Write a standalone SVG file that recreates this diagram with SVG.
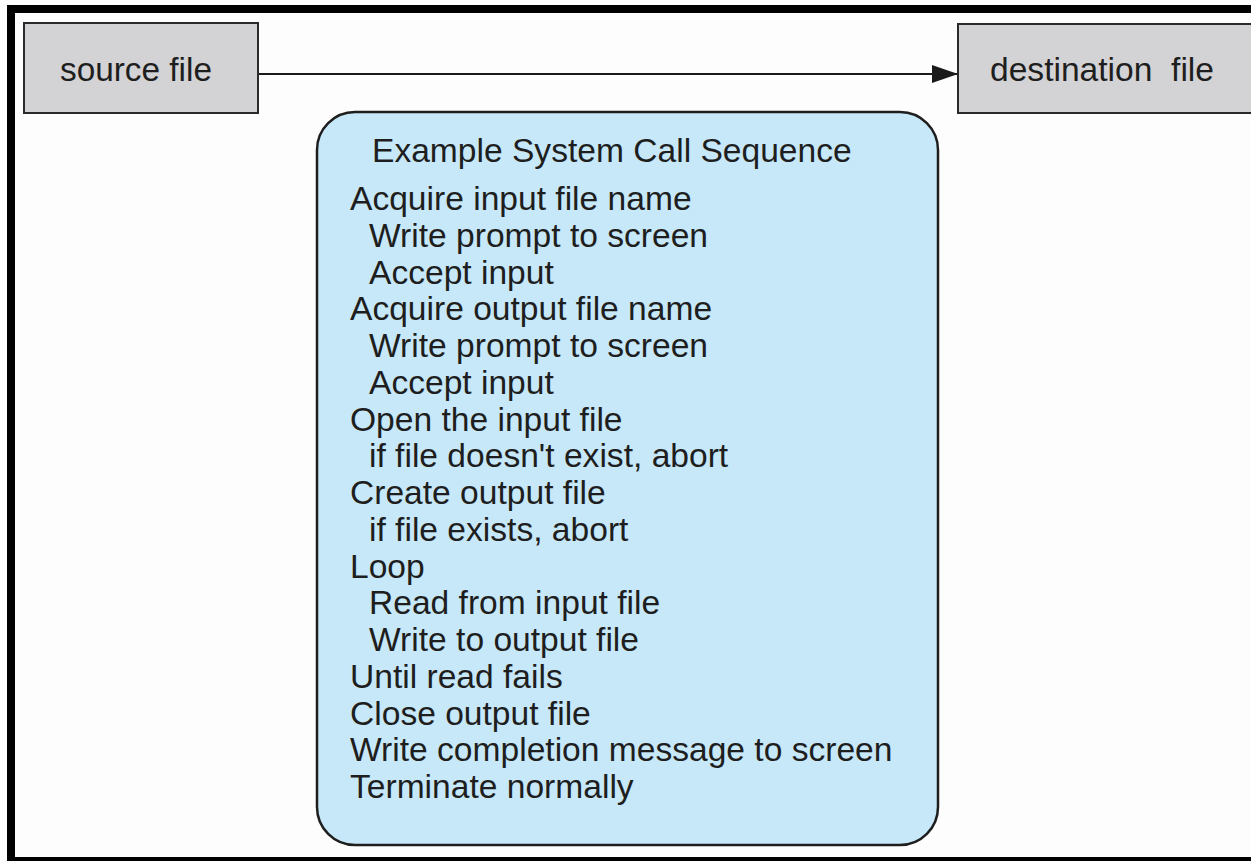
<svg xmlns="http://www.w3.org/2000/svg" width="1251" height="861" viewBox="0 0 1251 861">
<style>
.t{font-family:"Liberation Sans",Arial,sans-serif;font-size:33.6px;fill:#1e1e1e}
.box{fill:#d3d3d5;stroke:#2a2a2a;stroke-width:2}
.conn{stroke:#1a1a1a;stroke-width:2.2;fill:none}
</style>
<defs>
<marker id="arr" markerWidth="26" markerHeight="18" refX="25" refY="9" orient="auto" markerUnits="userSpaceOnUse">
<polygon points="0,0 26,9 0,18" fill="#1a1a1a"/>
</marker>
</defs>
<rect x="0" y="0" width="1251" height="861" fill="#fdfdfd"/>
<g id="frame">
<rect x="7" y="5" width="1250" height="8" fill="#000"/>
<rect x="7" y="5" width="8" height="856" fill="#000"/>
<rect x="7" y="857" width="1250" height="8" fill="#000"/>
</g>
<g id="connectors">
<line class="conn" x1="258" y1="74" x2="957" y2="74" marker-end="url(#arr)"/>
</g>
<g id="source">
<rect class="box" x="24" y="23" width="234" height="90"/>
<text class="t" x="60" y="81" textLength="152" lengthAdjust="spacingAndGlyphs">source file</text>
</g>
<g id="destination">
<rect class="box" x="958" y="24" width="300" height="89"/>
<text class="t" x="990" y="81" textLength="224" lengthAdjust="spacingAndGlyphs" xml:space="preserve">destination  file</text>
</g>
<g id="sequence">
<rect x="317" y="112" width="621" height="733" rx="38" ry="38" fill="#c7e8f8" stroke="#1e1e1e" stroke-width="2.5"/>
<text class="t" x="372" y="162">Example System Call Sequence</text>
<text class="t" x="350" y="210">Acquire input file name</text>
<text class="t" x="369" y="246.75">Write prompt to screen</text>
<text class="t" x="369" y="283.5">Accept input</text>
<text class="t" x="350" y="320.25">Acquire output file name</text>
<text class="t" x="369" y="357">Write prompt to screen</text>
<text class="t" x="369" y="393.75">Accept input</text>
<text class="t" x="350" y="430.5">Open the input file</text>
<text class="t" x="369" y="467.25">if file doesn't exist, abort</text>
<text class="t" x="350" y="504">Create output file</text>
<text class="t" x="369" y="540.75">if file exists, abort</text>
<text class="t" x="350" y="577.5">Loop</text>
<text class="t" x="369" y="614.25">Read from input file</text>
<text class="t" x="369" y="651">Write to output file</text>
<text class="t" x="350" y="687.75">Until read fails</text>
<text class="t" x="350" y="724.5">Close output file</text>
<text class="t" x="350" y="761.25">Write completion message to screen</text>
<text class="t" x="350" y="798">Terminate normally</text>
</g>
</svg>
